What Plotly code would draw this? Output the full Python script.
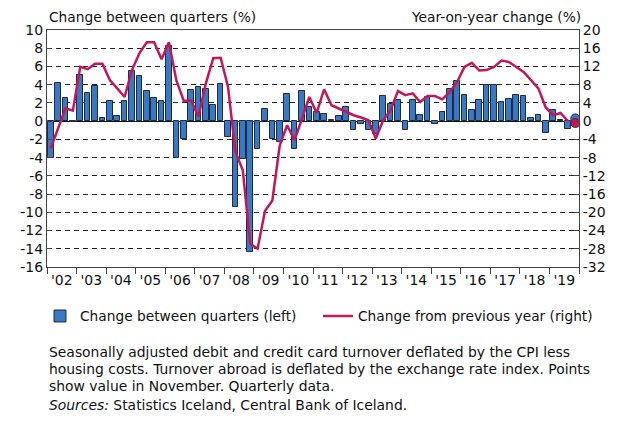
import plotly.graph_objects as go

# quarterly data, 2002Q1 .. 2019Q3
start_year = 2002
qoq_change = [
    -4.0, 4.2, 2.5, -0.1,
    5.1, 3.1, 3.9, 0.4,
    2.2, 0.6, 2.2, 5.5,
    4.9, 3.3, 2.5, 2.2,
    8.2, -4.0, -2.0, 3.4,
    3.7, 3.5, 1.8, 4.1,
    -1.7, -9.4, -4.2, -14.3,
    -3.1, 1.3, -2.0, -2.3,
    3.0, -3.0, 3.3, 1.6,
    1.0, 0.8, 0.1, 0.6,
    1.6, -1.0, -0.3, -1.0,
    -1.4, 2.8, 1.9, 2.3,
    -1.0, 2.3, 0.7, 2.7,
    -0.3, 1.0, 3.5, 4.4,
    2.9, 1.2, 2.3, 4.0,
    4.0, 2.1, 2.4, 2.9,
    2.8, 0.4, 0.7, -1.3,
    1.2, 0.1, -0.9,
]
yoy_change = [
    -6.0, -1.6, 2.8, 2.3,
    11.9, 11.4, 12.6, 12.6,
    9.0, 7.2, 5.3, 11.2,
    14.9, 17.3, 17.3, 13.6,
    17.3, 9.0, 4.5, 4.5,
    1.0, 8.3, 13.8, 13.9,
    7.5, -6.7, -10.8, -26.9,
    -28.0, -19.7, -17.4, -5.3,
    -0.9, -4.2, 0.5, 5.3,
    1.8, 7.0, 3.5, 2.8,
    2.0, 1.3, 0.8, 0.2,
    -3.8, 0.2, 2.4, 6.6,
    5.7, 6.1, 4.2, 5.5,
    5.5, 4.8, 6.4, 8.6,
    11.9, 12.8, 11.1, 11.2,
    11.9, 13.3, 13.0, 11.9,
    10.8, 9.0, 7.2, 3.0,
    1.3, 1.8, 0.0,
]
# November 2019 points
nov_x = [2019 + 10.5 / 12]
nov_qoq = [0.3]
nov_yoy = [-0.4]

years = list(range(2002, 2020))
year_labels = ["'" + str(y)[2:] for y in years]
left_ticks = list(range(-16, 11, 2))
right_ticks = list(range(-32, 21, 4))

notes = [
    'Seasonally adjusted debit and credit card turnover deflated by the CPI less',
    'housing costs. Turnover abroad is deflated by the exchange rate index. Points',
    'show value in November. Quarterly data.',
    '<i>Sources:</i> Statistics Iceland, Central Bank of Iceland.',
]

x = [start_year + (i + 0.5) / 4 for i in range(len(qoq_change))]

BLUE = '#3A78C2'
EDGE = '#1E2B48'
RED = '#C2185B'
FONT = 'DejaVu Sans'
AXIS = '#444444'

fig = go.Figure()

fig.add_trace(go.Bar(
    x=x, y=qoq_change, width=0.19,
    marker=dict(color=BLUE, line=dict(color=EDGE, width=1)),
    name='Change between quarters (left)', legend='legend',
))
fig.add_trace(go.Scatter(
    x=x, y=yoy_change, yaxis='y2', mode='lines',
    line=dict(color=RED, width=2.5),
    name='Change from previous year (right)', legend='legend2',
))
fig.add_trace(go.Scatter(
    x=nov_x, y=nov_qoq, mode='markers', showlegend=False,
    marker=dict(color=BLUE, size=9, line=dict(color=EDGE, width=1)),
))
fig.add_trace(go.Scatter(
    x=nov_x, y=nov_yoy, yaxis='y2', mode='markers', showlegend=False,
    marker=dict(color=RED, size=9, line=dict(color='#7A0F3A', width=1)),
))

legend_style = dict(
    orientation='h', xref='container', xanchor='left',
    y=-0.207, yanchor='middle', font=dict(size=13.75), itemwidth=30,
    bgcolor='rgba(0,0,0,0)',
)

fig.update_layout(
    width=624, height=421,
    margin=dict(l=47, r=45, t=30, b=154, autoexpand=False),
    paper_bgcolor='white', plot_bgcolor='white',
    font=dict(family=FONT, size=14, color='#111111'),
    bargap=0,
    xaxis=dict(
        range=[2002, 2020],
        tickvals=[y + 0.5 for y in years], ticktext=year_labels,
        ticks='', showgrid=False, zeroline=False,
        showline=True, linecolor=AXIS, linewidth=1, mirror=True,
        tickfont=dict(size=14),
        minor=dict(tickvals=years + [2020], ticks='outside', ticklen=6,
                   tickcolor=AXIS, showgrid=False),
    ),
    yaxis=dict(
        range=[-16, 10],
        tickvals=left_ticks, ticktext=[str(v) for v in left_ticks],
        ticks='inside', ticklen=5, tickcolor=AXIS,
        showline=True, linecolor=AXIS, linewidth=1,
        showgrid=True, gridcolor='#222222', gridwidth=1, griddash='5px,4px',
        zeroline=True, zerolinecolor='#111111', zerolinewidth=1,
        tickfont=dict(size=14),
    ),
    yaxis2=dict(
        range=[-32, 20], overlaying='y', side='right',
        tickvals=right_ticks, ticktext=[str(v) for v in right_ticks],
        ticks='inside', ticklen=5, tickcolor=AXIS,
        showline=True, linecolor=AXIS, linewidth=1,
        showgrid=False, zeroline=False,
        tickfont=dict(size=14),
    ),
    showlegend=True,
    legend=dict(legend_style, x=40 / 624),
    legend2=dict(legend_style, x=318 / 624),
)

fig.add_annotation(
    text='Change between quarters (%)', xref='paper', yref='paper',
    x=0, y=1.055, xanchor='left', yanchor='middle', showarrow=False,
    font=dict(size=13.75),
)
fig.add_annotation(
    text='Year-on-year change (%)', xref='paper', yref='paper',
    x=1.0075, y=1.055, xanchor='right', yanchor='middle', showarrow=False,
    font=dict(size=13.75),
)
for line, yp in zip(notes, [-0.3586, -0.4304, -0.5021, -0.5823]):
    fig.add_annotation(
        text=line, xref='paper', yref='paper', x=0, y=yp,
        xanchor='left', yanchor='middle', align='left', showarrow=False,
        font=dict(size=13.9),
    )

# the page body has an 8px default margin; remove it so the figure sits at 0,0
fig.write_html('out.html', config={'displayModeBar': False},
               post_script="document.body.style.margin='0';")
